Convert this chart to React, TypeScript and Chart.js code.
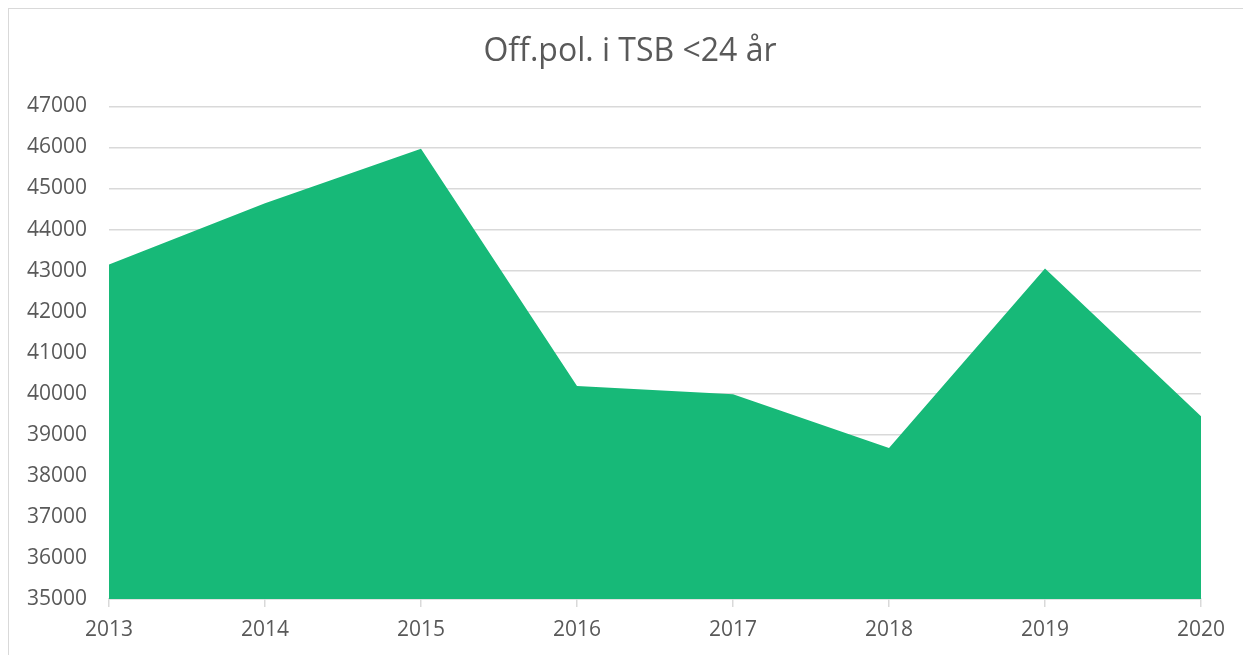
import React, { useEffect, useRef } from "react";
import { Chart, registerables } from "chart.js";

Chart.register(...registerables);

const categories = ["2013", "2014", "2015", "2016", "2017", "2018", "2019", "2020"];
const values = [43150, 44640, 45970, 40190, 39990, 38680, 43050, 39450];
const titleText = "Off.pol. i TSB <24 år";

const FONT = "'Open Sans', 'Noto Sans', sans-serif";
const TEXT = "#595959";
const GRID = "#d9d9d9";
const FILL = "#17b978";

export default function App() {
  const ref = useRef<HTMLCanvasElement | null>(null);
  useEffect(() => {
    if (!ref.current) return;
    const chart = new Chart(ref.current, {
      type: "line",
      data: {
        labels: categories,
        datasets: [
          {
            data: values,
            backgroundColor: FILL,
            borderWidth: 0,
            borderColor: FILL,
            pointRadius: 0,
            fill: "start",
            tension: 0,
            yAxisID: "y",
          },
        ],
      },
      options: {
        responsive: false,
        animation: false,
        devicePixelRatio: 1,
        layout: { padding: 0 },
        plugins: {
          legend: { display: false },
          tooltip: { enabled: false },
          title: {
            display: true,
            text: titleText,
            color: TEXT,
            font: { family: FONT, size: 32, weight: "normal", lineHeight: 1.2 },
            padding: { top: 24, bottom: 35 },
          },
        },
        scales: {
          x: {
            type: "category",
            offset: false,
            grid: {
              display: true,
              drawOnChartArea: false,
              drawTicks: true,
              tickLength: 8,
              color: GRID,
              lineWidth: 1.5,
            },
            border: { display: true, color: GRID, width: 1.5 },
            ticks: {
              color: TEXT,
              font: { family: FONT, size: 21 },
              padding: 10,
              maxRotation: 0,
            },
            afterFit: (s: any) => {
              s.height = 56;
            },
          },
          y: {
            min: 35000,
            max: 47000,
            grid: { color: GRID, lineWidth: 1.5, drawTicks: false },
            border: { display: false },
            ticks: {
              stepSize: 1000,
              color: TEXT,
              font: { family: FONT, size: 21 },
              padding: 22,
              callback: (v: any) => String(v),
            },
            afterFit: (s: any) => {
              s.width = 100;
            },
          },
          y2: {
            position: "right",
            min: 35000,
            max: 47000,
            grid: { display: false, drawOnChartArea: false },
            border: { display: false },
            ticks: { display: false },
            afterFit: (s: any) => {
              s.width = 50;
            },
          },
        },
      },
    });
    return () => chart.destroy();
  }, []);
  return (
    <div
      style={{
        width: 1243,
        height: 647,
        boxSizing: "border-box",
        borderTop: "1.5px solid " + GRID,
        borderLeft: "1.5px solid " + GRID,
        background: "#fff",
        overflow: "hidden",
      }}
    >
      <canvas ref={ref} width={1242} height={646} style={{ display: "block" }} />
    </div>
  );
}
